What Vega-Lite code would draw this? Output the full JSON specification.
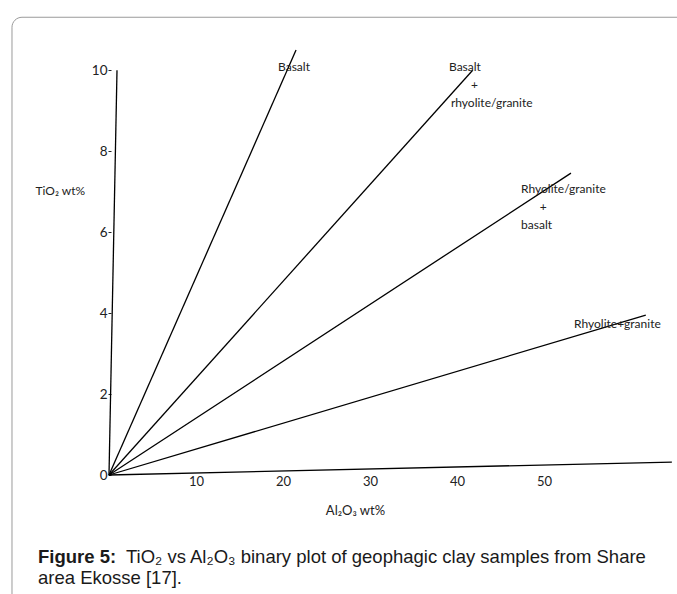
{
  "$schema": "https://vega.github.io/schema/vega-lite/v6.json",
  "autosize": "none",
  "width": 565.5,
  "height": 429,
  "padding": {"left": 109, "top": 46, "right": 2.5, "bottom": 119},
  "background": "white",
  "config": {"view": {"stroke": null}, "font": "Lato"},
  "datasets": {
    "lines": [
      {"line": "axis", "x": 0, "y": 0}, {"line": "axis", "x": 0.92, "y": 10.0},
      {"line": "basalt", "x": 0, "y": 0}, {"line": "basalt", "x": 21.5, "y": 10.5},
      {"line": "basalt_rhy", "x": 0, "y": 0}, {"line": "basalt_rhy", "x": 41.8, "y": 10.0},
      {"line": "rhy_basalt", "x": 0, "y": 0}, {"line": "rhy_basalt", "x": 53.1, "y": 7.46},
      {"line": "rhy", "x": 0, "y": 0}, {"line": "rhy", "x": 61.7, "y": 3.95},
      {"line": "bottom", "x": 0, "y": 0}, {"line": "bottom", "x": 64.7, "y": 0.32}
    ],
    "labels": [
      {"label": "Basalt", "x": 19.43, "y": 10.08},
      {"label": "Basalt", "x": 39.08, "y": 10.08},
      {"label": "+", "x": 41.6, "y": 9.64},
      {"label": "rhyolite/granite", "x": 39.3, "y": 9.19},
      {"label": "Rhyolite/granite", "x": 47.36, "y": 7.07},
      {"label": "+", "x": 49.5, "y": 6.62},
      {"label": "basalt", "x": 47.36, "y": 6.18},
      {"label": "Rhyolite+granite", "x": 53.45, "y": 3.73}
    ],
    "frame": [
      {"x1": -11.15, "x2": 67.5, "y1": 11.31, "y2": -3.5}
    ],
    "caption_bold": [
      {"text": "Figure 5:", "x": -8.16, "y": -2.174}
    ],
    "caption": [
      {"text": "TiO₂ vs Al₂O₃ binary plot of geophagic clay samples from Share", "x": 1.95, "y": -2.174},
      {"text": "area Ekosse [17].", "x": -8.16, "y": -2.693}
    ]
  },
  "layer": [
    {
      "data": {"name": "frame"},
      "mark": {"type": "rect", "fill": null, "stroke": "#9a9a9a", "strokeWidth": 1, "cornerRadius": 10, "clip": false},
      "encoding": {
        "x": {"field": "x1", "type": "quantitative"},
        "x2": {"field": "x2"},
        "y": {"field": "y1", "type": "quantitative"},
        "y2": {"field": "y2"}
      }
    },
    {
      "data": {"name": "lines"},
      "mark": {"type": "line", "color": "black", "strokeWidth": 1.3, "clip": false},
      "encoding": {
        "x": {
          "field": "x", "type": "quantitative",
          "scale": {"domain": [0, 65], "nice": false, "zero": false},
          "axis": {
            "values": [10, 20, 30, 40, 50], "domain": false, "ticks": false, "grid": false,
            "labelFontSize": 13, "labelColor": "#222", "labelPadding": 0,
            "title": "Al₂O₃ wt%", "titleFontSize": 13, "titleFontWeight": "normal", "titleColor": "#222",
            "titleX": 246, "titleAnchor": "middle", "titlePadding": 16
          }
        },
        "y": {
          "field": "y", "type": "quantitative",
          "scale": {"domain": [0, 10.6], "nice": false, "zero": false},
          "axis": {
            "values": [0, 2, 4, 6, 8, 10], "domain": false, "ticks": true, "tickSize": 3, "tickColor": "#222", "grid": false,
            "offset": -2,
            "labelFontSize": 13.5, "labelColor": "#222", "labelPadding": 1,
            "title": "TiO₂ wt%", "titleFontSize": 12, "titleFontWeight": "normal", "titleColor": "#222",
            "titleAngle": 0, "titleX": -76, "titleY": 144, "titleAlign": "left", "titleBaseline": "middle"
          }
        },
        "detail": {"field": "line", "type": "nominal"}
      }
    },
    {
      "data": {"name": "labels"},
      "mark": {"type": "text", "align": "left", "baseline": "middle", "fontSize": 12, "color": "#222", "clip": false},
      "encoding": {
        "x": {"field": "x", "type": "quantitative"},
        "y": {"field": "y", "type": "quantitative"},
        "text": {"field": "label"}
      }
    },
    {
      "data": {"name": "caption_bold"},
      "mark": {"type": "text", "align": "left", "baseline": "alphabetic", "font": "Liberation Sans", "fontSize": 18.5, "fontWeight": "bold", "color": "#1a1a1a", "clip": false},
      "encoding": {
        "x": {"field": "x", "type": "quantitative"},
        "y": {"field": "y", "type": "quantitative"},
        "text": {"field": "text"}
      }
    },
    {
      "data": {"name": "caption"},
      "mark": {"type": "text", "align": "left", "baseline": "alphabetic", "font": "Liberation Sans", "fontSize": 18.5, "color": "#1a1a1a", "clip": false},
      "encoding": {
        "x": {"field": "x", "type": "quantitative"},
        "y": {"field": "y", "type": "quantitative"},
        "text": {"field": "text"}
      }
    }
  ]
}
